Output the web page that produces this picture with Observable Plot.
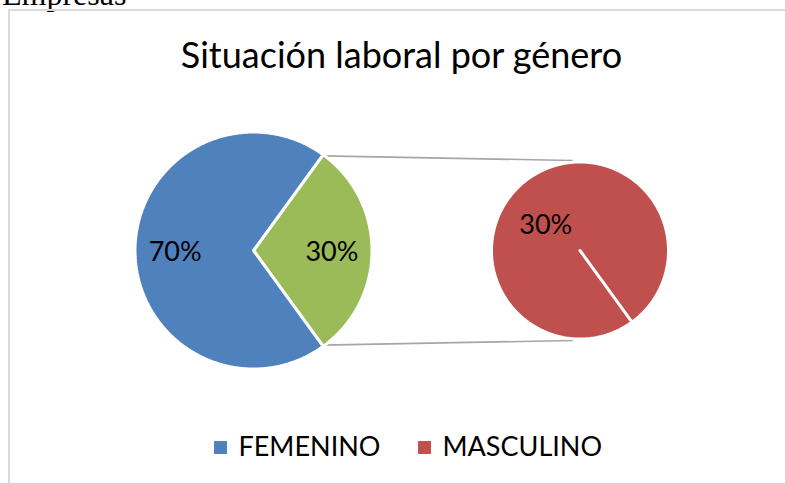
<!DOCTYPE html>
<html>
<head>
<meta charset="utf-8">
<script src="https://cdn.jsdelivr.net/npm/d3@7"></script>
<script src="https://cdn.jsdelivr.net/npm/@observablehq/plot@0.6"></script>
<style>
  html, body { margin: 0; padding: 0; background: #fff; }
  #wrap { position: relative; width: 785px; height: 483px; overflow: hidden; background: #fff; }
  #frame { position: absolute; left: 8px; top: 9px; width: 900px; height: 600px;
           border-left: 2px solid #d9d9d9; border-top: 2px solid #d9d9d9; box-sizing: border-box; }
  #heading { position: absolute; left: 2px; top: -22px; font-family: "Liberation Serif", serif;
             font-size: 32px; line-height: 32px; color: #000; white-space: nowrap; }
  #chart { position: absolute; left: 0; top: 0; }
</style>
</head>
<body>
<div id="wrap">
  <div id="heading"></div>
  <div id="frame"></div>
  <div id="chart"></div>
</div>
<script>
// ---- data ----
const categories = ["FEMENINO", "MASCULINO"];
const values = [70, 30];
const sliceColors = ["#4F81BD", "#C0504D"];
const otherColor = "#9BBB59";
const secondaryCats = ["MASCULINO"];
const chartTitle = "Situación laboral por género";
const pageHeading = "Empresas";

// ---- layout ----
const W = 785, H = 483;
const SEP = 3;                                   // white separator width
const P = {cx: 253, cy: 250, r: 117};            // primary pie
const S = {cx: 579.5, cy: 250, r: 87};           // secondary pie
const titlePos = {x: 401, y: 56};
const legendY = 447;
const legendX = [220, 424];
const secLabel = {rFrac: 0.5, angleOffset: -16};

document.getElementById("heading").textContent = pageHeading;

const rad = d => d * Math.PI / 180;
const pt = (c, r, deg) => ({x: c.cx + r * Math.sin(rad(deg)), y: c.cy - r * Math.cos(rad(deg))});

const total = d3.sum(values);
const secTotal = d3.sum(values.filter((v, i) => secondaryCats.includes(categories[i])));
const span = secTotal / total * 360;

// primary pie: the split-off group centred at 3 o'clock
const primary = [];
let a = 90 - span / 2;
primary.push({key: "other", value: secTotal, color: otherColor, a0: a, a1: a + span});
a += span;
categories.forEach((c, i) => {
  if (!secondaryCats.includes(c)) {
    const s = values[i] / total * 360;
    primary.push({key: c, value: values[i], color: sliceColors[i], a0: a, a1: a + s});
    a += s;
  }
});
// secondary pie
const secondary = [];
let b = 90 + span / 2;
categories.forEach((c, i) => {
  if (secondaryCats.includes(c)) {
    const s = values[i] / secTotal * 360;
    secondary.push({key: "sec-" + c, value: values[i], color: sliceColors[i], a0: b, a1: b + s});
    b += s;
  }
});

function polygon(slice, c) {
  const r = c.r + SEP / 2;
  const pts = [{key: slice.key, color: slice.color, ...pt(c, 0, 0)}];
  const n = Math.max(2, Math.ceil(slice.a1 - slice.a0));
  for (let k = 0; k <= n; k++) {
    const ang = slice.a0 + (slice.a1 - slice.a0) * k / n;
    pts.push({key: slice.key, color: slice.color, ...pt(c, r, ang)});
  }
  pts.push({key: slice.key, color: slice.color, ...pt(c, 0, 0)});
  return pts;
}
const polyPoints = [
  ...primary.flatMap(s => polygon(s, P)),
  ...secondary.flatMap(s => polygon(s, S))
];

const fmt = v => Math.round(v / total * 100) + "%";
const labels = [
  ...primary.map(s => ({text: fmt(s.value), ...pt(P, P.r * 0.67, (s.a0 + s.a1) / 2)})),
  ...secondary.map(s => ({text: fmt(s.value),
      ...pt(S, S.r * secLabel.rFrac, (s.a0 + s.a1) / 2 + secLabel.angleOffset)}))
];

// connector lines from the split group's edges to the secondary pie
const grp = primary[0];
const connectors = [
  {from: pt(P, P.r, grp.a0), to: {x: S.cx - 7, y: S.cy - S.r - 3}},
  {from: pt(P, P.r, grp.a1), to: {x: S.cx - 7, y: S.cy + S.r + 3}}
];

const legend = categories.map((c, i) => ({name: c, color: sliceColors[i], x: legendX[i]}));

const plot = Plot.plot({
  width: W, height: H, margin: 0,
  x: {domain: [0, W], range: [0, W], axis: null},
  y: {domain: [0, H], range: [0, H], axis: null},
  color: {type: "identity"},
  style: {fontFamily: "Lato", background: "transparent", color: "#000"},
  marks: [
    Plot.link(connectors, {x1: d => d.from.x, y1: d => d.from.y, x2: d => d.to.x, y2: d => d.to.y,
      stroke: "#a6a6a6", strokeWidth: 1.6}),
    Plot.line(polyPoints, {x: "x", y: "y", z: "key", fill: "color", stroke: "white",
      strokeWidth: SEP, strokeLinejoin: "miter", curve: "linear"}),
    Plot.text(labels, {x: "x", y: d => d.y + 2, text: "text", fontSize: 27, fill: "#000"}),
    Plot.text([chartTitle], {x: () => titlePos.x, y: () => titlePos.y, text: d => d, fontSize: 36, fill: "#000"}),
    Plot.dot(legend, {x: "x", y: () => legendY, symbol: "square", r: 7.3, fill: "color", stroke: null}),
    Plot.text(legend, {x: d => d.x + 18, y: () => legendY, text: "name", textAnchor: "start", fontSize: 27, fill: "#000"})
  ]
});
document.getElementById("chart").appendChild(plot);
</script>
</body>
</html>
